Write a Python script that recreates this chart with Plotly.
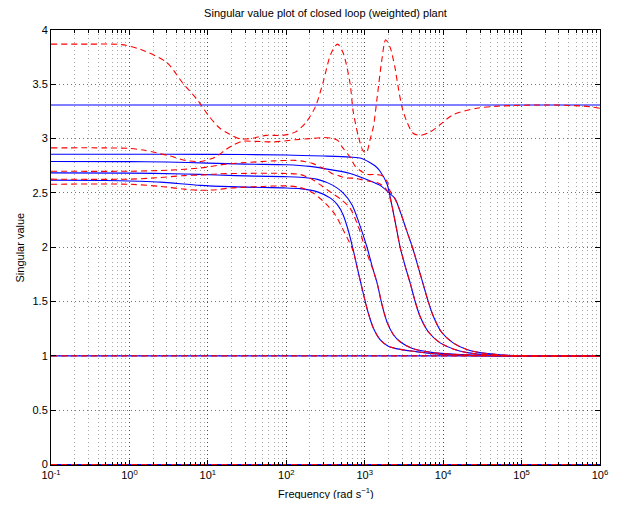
import plotly.graph_objects as go

# ---------------- data ----------------
# Blue (solid) singular values
b_hi_f = [0.1, 1e6]
b_hi_v = [3.31, 3.31]
b_one_f = [0.1, 1e6]
b_one_v = [1.0, 1.0]
b_zero_f = [0.1, 1e6]
b_zero_v = [0.0, 0.0]

bc_f = [0.1, 1, 10, 100, 300, 650, 900, 1100, 1350, 1570, 1930, 2200, 2500, 2830, 3300,
        3800, 4400, 5100, 6500, 9160, 14000, 20200, 36300, 1e5, 1e6]
bc_v = [2.857, 2.857, 2.855, 2.85, 2.84, 2.83, 2.82, 2.79, 2.75, 2.70, 2.58, 2.40, 2.2, 2.0, 1.82,
        1.67, 1.5, 1.36, 1.22, 1.12, 1.06, 1.03, 1.01, 1.0, 1.0]

bd_f = [0.1, 1, 3, 10, 30, 100, 200, 400, 650, 1100, 1570, 1980, 2420, 2800, 3400, 4140,
        4800, 5560, 6400, 7450, 9500, 13400, 20000, 29500, 53300, 1e5, 1e6]
bd_v = [2.79, 2.788, 2.785, 2.775, 2.765, 2.76, 2.745, 2.71, 2.68, 2.62, 2.57, 2.51, 2.45, 2.34,
        2.16, 1.98, 1.82, 1.66, 1.51, 1.37, 1.22, 1.12, 1.06, 1.03, 1.01, 1.0, 1.0]

bb_f = [0.1, 1, 5, 13, 40, 92, 150, 250, 395, 530, 690, 850, 1070, 1250, 1440, 1650, 1930,
        2300, 2830, 4000, 7450, 20200, 1e5, 1e6]
bb_v = [2.685, 2.683, 2.675, 2.665, 2.655, 2.65, 2.645, 2.625, 2.57, 2.50, 2.39, 2.22, 2.0,
        1.82, 1.67, 1.48, 1.31, 1.2, 1.13, 1.07, 1.03, 1.01, 1.0, 1.0]

ba_f = [0.1, 0.5, 1.3, 2.5, 8, 19, 50, 92, 150, 250, 370, 450, 530, 620, 711, 810, 927,
        1105, 1300, 1570, 2000, 2830, 4500, 7450, 20000, 1e5, 1e6]
ba_v = [2.618, 2.615, 2.608, 2.60, 2.57, 2.558, 2.55, 2.547, 2.54, 2.51, 2.45, 2.39, 2.30,
        2.15, 1.98, 1.80, 1.62, 1.40, 1.25, 1.15, 1.09, 1.06, 1.04, 1.02, 1.005, 1.0, 1.0]

# Red (dashed) singular values
r1_f = [0.1, 0.3, 0.8, 1.4, 3, 4.8, 7.3, 10, 14, 19, 25, 35, 55, 90, 130, 174, 234, 295, 370,
        450, 530, 650, 710, 830, 950, 1050, 1170, 1290, 1430, 1650, 1850, 2110, 2420, 2650,
        2990, 3470, 4140, 5100, 6800, 9160, 13400, 27000, 53000, 2e5, 6e5, 1e6]
r1_v = [3.87, 3.87, 3.865, 3.82, 3.70, 3.51, 3.36, 3.22, 3.10, 3.04, 3.0, 3.0, 3.03, 3.03, 3.06,
        3.14, 3.29, 3.52, 3.78, 3.87, 3.79, 3.51, 3.26, 3.02, 2.89, 2.87, 2.99, 3.11, 3.36, 3.72,
        3.91, 3.84, 3.66, 3.49, 3.29, 3.15, 3.05, 3.03, 3.06, 3.13, 3.22, 3.28, 3.30, 3.31, 3.30, 3.28]

r2_f = [0.1, 0.5, 1.0, 1.5, 2.2, 3.3, 5.2, 8.0, 11, 13.5, 17, 21, 27, 40, 70, 130, 200, 300,
        400, 460, 520, 650, 750, 900, 1100, 1400, 1650, 1950, 2100, 2420, 2800, 3400, 4140,
        4800, 5560, 6400, 7450, 9500, 13400, 20000, 29500, 53300, 1e5, 1e6]
r2_v = [2.915, 2.915, 2.91, 2.895, 2.87, 2.84, 2.80, 2.79, 2.815, 2.845, 2.9, 2.94, 2.975,
        2.975, 2.97, 2.99, 3.0, 3.01, 3.0, 2.98, 2.92, 2.83, 2.75, 2.70, 2.67, 2.67, 2.66, 2.60,
        2.52, 2.45, 2.34, 2.16, 1.98, 1.82, 1.66, 1.51, 1.37, 1.22, 1.12, 1.06, 1.03, 1.01, 1.0, 1.0]

r3_f = [0.1, 1, 3.3, 8, 17, 30, 70, 130, 170, 220, 270, 330, 380, 480, 560, 750, 880, 1100,
        1500, 1800, 2000, 2200, 2500, 2830, 3300, 3800, 4400, 5100, 6500, 9160, 14000, 20200,
        36300, 1e5, 1e6]
r3_v = [2.70, 2.70, 2.71, 2.73, 2.765, 2.78, 2.795, 2.80, 2.79, 2.77, 2.74, 2.71, 2.68, 2.655,
        2.64, 2.635, 2.625, 2.61, 2.59, 2.55, 2.50, 2.40, 2.2, 2.0, 1.82, 1.67, 1.5, 1.36, 1.22,
        1.12, 1.06, 1.03, 1.01, 1.0, 1.0]

r4_f = [0.1, 1, 2.2, 5, 8, 13, 30, 90, 150, 220, 290, 380, 500, 650, 850, 1000, 1250, 1440,
        1650, 1930, 2300, 2830, 4000, 7450, 20200, 1e5, 1e6]
r4_v = [2.627, 2.627, 2.64, 2.66, 2.665, 2.675, 2.68, 2.68, 2.67, 2.62, 2.56, 2.50, 2.44, 2.36,
        2.17, 2.0, 1.81, 1.67, 1.48, 1.31, 1.2, 1.13, 1.07, 1.03, 1.01, 1.0, 1.0]

r5_f = [0.1, 1, 2.5, 5, 8, 13, 19, 50, 100, 150, 220, 280, 330, 420, 540, 700, 810, 927,
        1105, 1300, 1570, 2000, 2830, 4500, 7450, 20000, 1e5, 1e6]
r5_v = [2.58, 2.58, 2.56, 2.535, 2.525, 2.53, 2.545, 2.56, 2.565, 2.55, 2.50, 2.44, 2.39, 2.30,
        2.15, 1.98, 1.80, 1.62, 1.40, 1.25, 1.15, 1.09, 1.06, 1.04, 1.02, 1.005, 1.0, 1.0]

r6_f = [0.1, 1e6]
r6_v = [1.0, 1.0]
r7_f = [0.1, 1e6]
r7_v = [0.0, 0.0]

x_tick_vals = [0.1, 1, 10, 100, 1e3, 1e4, 1e5, 1e6]
x_tick_text = ["10<sup>-1</sup>", "10<sup>0</sup>", "10<sup>1</sup>", "10<sup>2</sup>",
               "10<sup>3</sup>", "10<sup>4</sup>", "10<sup>5</sup>", "10<sup>6</sup>"]
y_tick_vals = [0, 0.5, 1, 1.5, 2, 2.5, 3, 3.5, 4]
y_tick_text = ["0", "0.5", "1", "1.5", "2", "2.5", "3", "3.5", "4"]

title_text = "Singular value plot of closed loop (weighted) plant"
x_title = "Frequency (rad s<sup>−1</sup>)"
y_title = "Singular value"

# ---------------- figure ----------------
BLUE = "#0000ff"
RED = "#ff0000"
FONT = "Liberation Sans, Arial, Helvetica, sans-serif"

# the page body has an 8px margin, so the figure is sized to fit inside it
W, H = 611, 491
L, R, T, B = 43, 19, 22, 34
PH = H - T - B
PW = W - L - R

fig = go.Figure()

blue_series = [(b_hi_f, b_hi_v), (b_one_f, b_one_v), (b_zero_f, b_zero_v),
               (bc_f, bc_v), (bd_f, bd_v), (bb_f, bb_v), (ba_f, ba_v)]
red_series = [(r1_f, r1_v), (r2_f, r2_v), (r3_f, r3_v), (r4_f, r4_v), (r5_f, r5_v),
              (r6_f, r6_v), (r7_f, r7_v)]

for f, v in blue_series:
    fig.add_trace(go.Scatter(x=f, y=v, mode="lines",
                             line=dict(color=BLUE, width=1.1, shape="spline", smoothing=0.8),
                             showlegend=False, hoverinfo="skip"))
for f, v in red_series:
    fig.add_trace(go.Scatter(x=f, y=v, mode="lines",
                             line=dict(color=RED, width=1.1, dash="6px,4px",
                                       shape="spline", smoothing=0.8),
                             showlegend=False, hoverinfo="skip"))

grid_major = "rgba(0,0,0,0.55)"
grid_minor = "rgba(0,0,0,0.35)"

fig.update_layout(
    width=W, height=H, autosize=False,
    margin=dict(l=L, r=R, t=T, b=B),
    paper_bgcolor="white", plot_bgcolor="white",
    font=dict(family=FONT, size=11, color="black"),
    title=dict(text=title_text, x=0.5, xref="paper", xanchor="center",
               y=1 - 5 / H, yref="container", yanchor="middle",
               font=dict(family=FONT, size=11, color="black")),
    xaxis=dict(type="log", range=[-1, 6], tickvals=x_tick_vals, ticktext=x_tick_text,
               showline=True, linecolor="black", linewidth=1, mirror="ticks",
               ticks="inside", ticklen=5, tickcolor="black",
               showgrid=True, gridcolor=grid_major, griddash="1px,3px", gridwidth=1,
               minor=dict(dtick="D1", ticks="inside", ticklen=3, tickcolor="black",
                          showgrid=True, gridcolor=grid_minor, griddash="1px,3px", gridwidth=1),
               zeroline=False, tickfont=dict(family=FONT, size=11, color="black")),
    yaxis=dict(range=[-0.004, 4.0], tickvals=y_tick_vals, ticktext=y_tick_text,
               showline=True, linecolor="black", linewidth=1, mirror="ticks",
               ticks="inside", ticklen=5, tickcolor="black",
               showgrid=True, gridcolor=grid_major, griddash="1px,3px", gridwidth=1,
               zeroline=False, tickfont=dict(family=FONT, size=11, color="black")),
    annotations=[
        dict(text=x_title, xref="paper", yref="paper", x=0.5, y=-28 / PH,
             xanchor="center", yanchor="middle", showarrow=False,
             font=dict(family=FONT, size=11, color="black")),
        dict(text=y_title, xref="paper", yref="paper", x=-32 / PW, y=0.5,
             xanchor="center", yanchor="middle", showarrow=False, textangle=-90,
             font=dict(family=FONT, size=11, color="black")),
    ],
)

fig.write_html("out.html")
